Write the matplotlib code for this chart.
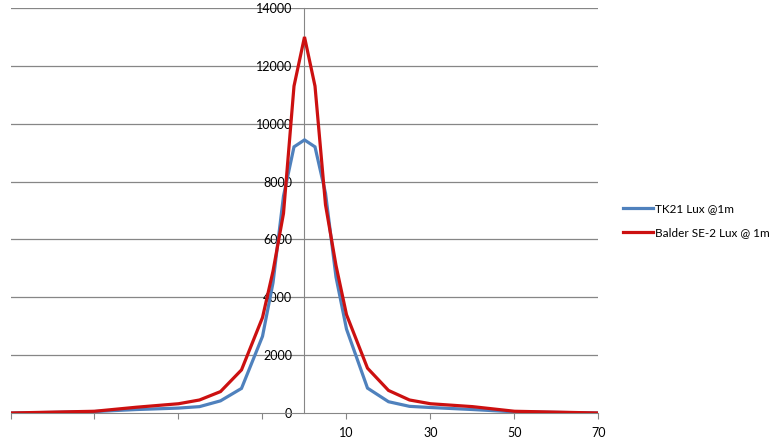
import matplotlib
matplotlib.use("Agg")
import matplotlib.pyplot as plt

# ---- data ----
angles = [-70, -60, -50, -40, -30, -25, -20, -15, -10, -7.5, -5, -2.5, 0,
          2.5, 5, 7.5, 10, 15, 20, 25, 30, 40, 50, 60, 70]
tk21 = [0, 20, 50, 120, 170, 220, 420, 850, 2650, 4500, 7500, 9200, 9440,
        9200, 7600, 4700, 2900, 860, 390, 230, 190, 120, 40, 20, 0]
balder = [0, 30, 60, 200, 320, 450, 740, 1490, 3300, 4900, 6900, 11300, 13000,
          11300, 7200, 5100, 3400, 1550, 780, 450, 320, 220, 60, 30, 0]
series_names = ["TK21 Lux @1m", "Balder SE-2 Lux @ 1m"]
x_ticks = [-70, -50, -30, -10, 10, 30, 50, 70]
x_tick_labels = ["", "", "", "", "10", "30", "50", "70"]
y_ticks = [0, 2000, 4000, 6000, 8000, 10000, 12000, 14000]

plt.rcParams['font.family'] = ['Lato', 'DejaVu Sans']

fig = plt.figure(figsize=(7.76, 4.44), dpi=100)
ax = fig.add_axes([10.5/776, 31/444, 588/776, 405/444])

blue = '#4F81BD'
red = '#CC1010'
grid_c = '#868686'

l1, = ax.plot(angles, tk21, color=blue, lw=2.3, solid_joinstyle='miter', zorder=3)
l2, = ax.plot(angles, balder, color=red, lw=2.3, solid_joinstyle='miter', zorder=4)

ax.set_xlim(-70, 70)
ax.set_ylim(0, 14000)
ax.set_yticks(y_ticks)
ax.set_yticklabels([str(v) for v in y_ticks])
ax.set_xticks(x_ticks)
ax.set_xticklabels(x_tick_labels)

for v in y_ticks[1:]:
    ax.axhline(v, color=grid_c, lw=0.9, zorder=1)

ax.spines['left'].set_position(('data', 0))
ax.spines['left'].set_color(grid_c)
ax.spines['bottom'].set_color(grid_c)
ax.spines['right'].set_visible(False)
ax.spines['top'].set_visible(False)
ax.tick_params(axis='y', length=0, pad=9, labelsize=9, colors='black')
ax.tick_params(axis='x', length=4, color=grid_c, pad=6, labelsize=9, direction='out')

fig.legend([l1, l2], series_names, loc='center left',
           bbox_to_anchor=(612/776, 223/444), frameon=False,
           fontsize=8.5, handlelength=2.6, labelspacing=1.1, handletextpad=0.15)

fig.savefig('out.png', dpi=100)
